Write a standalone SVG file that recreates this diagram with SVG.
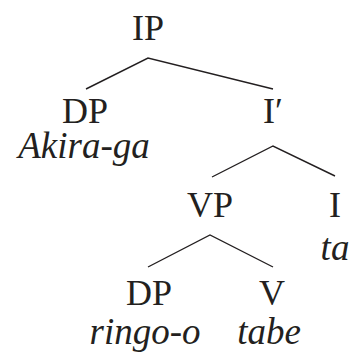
<svg xmlns="http://www.w3.org/2000/svg" width="355" height="354" viewBox="0 0 355 354">
<style>
.l{font-family:"Liberation Serif","Times New Roman",serif;font-size:36px;fill:#231f20;text-anchor:middle}
.w{font-style:italic;font-size:37px}
.e{stroke:#231f20;stroke-width:1.4;fill:none}
</style>
<rect width="355" height="354" fill="#fff"/>
<g id="IP"><text class="l" x="148" y="40">IP</text></g>
<g id="DP1"><text class="l" x="85" y="123">DP</text><text class="l w" x="84" y="158">Akira-ga</text></g>
<g id="Ibar"><text class="l" x="273" y="123">I′</text></g>
<g id="VP"><text class="l" x="210" y="217">VP</text></g>
<g id="I"><text class="l" x="335" y="217">I</text><text class="l w" x="335" y="260">ta</text></g>
<g id="DP2"><text class="l" x="149" y="305">DP</text><text class="l w" x="145" y="344">ringo-o</text></g>
<g id="V"><text class="l" x="272" y="305">V</text><text class="l w" x="269" y="344">tabe</text></g>
<g id="edges">
<path class="e" d="M86 89L148 58L273 89"/>
<path class="e" d="M212 177L273 146L335 176"/>
<path class="e" d="M148 267L210 235L273 267"/>
</g>
</svg>
